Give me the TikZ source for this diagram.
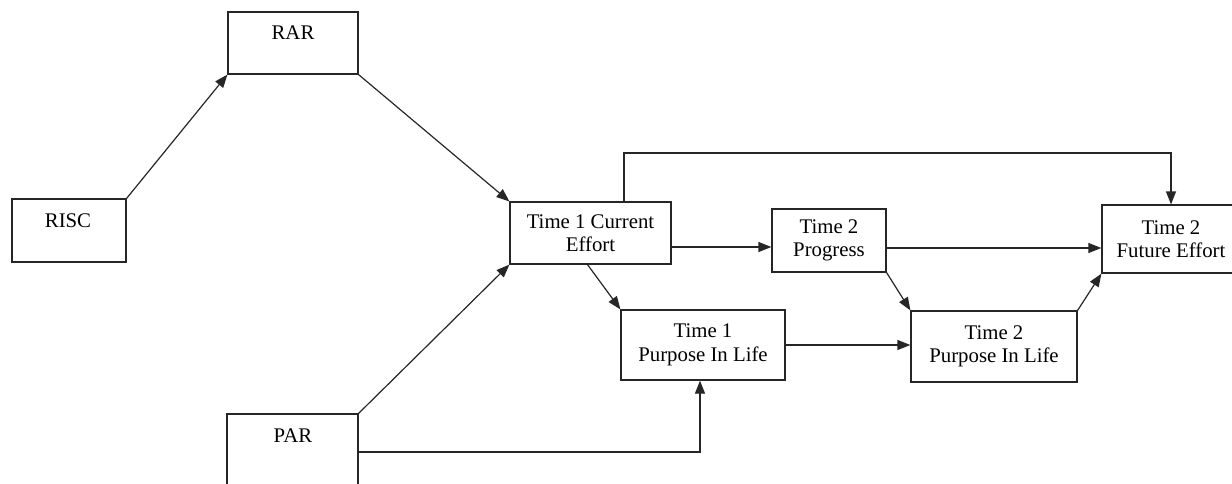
\documentclass[tikz,border=0pt]{standalone}
\usepackage{fontspec}
\setmainfont{Liberation Serif}
\usetikzlibrary{arrows.meta,calc}
\begin{document}
\begin{tikzpicture}[x=1pt,y=-1pt,
  box/.style={draw=black!85, line width=1.2pt, inner sep=0pt, align=center,
    font=\fontsize{20.8}{23.5}\selectfont},
  txt/.style={anchor=base, inner sep=0pt, font=\fontsize{20.8}{23.5}\selectfont},
  arr/.style={draw=black!85, line width=1.2pt, -{Triangle[length=13pt,width=10pt]}},
  ln/.style={draw=black!85, line width=1.2pt}]
\useasboundingbox (0,0) rectangle (1232,483);
% boxes
\node[box, minimum width=130, minimum height=62] (rar) at (293,43) {};
\node[txt] (rart) at (293,39) {RAR};
\node[box, minimum width=114, minimum height=63] (risc) at (69,230.5) {};
\node[txt] (risct) at (68,227) {RISC};
\node[box, minimum width=131, minimum height=82] (par) at (292.5,455) {};
\node[txt] (part) at (293,442) {PAR};
\node[box, minimum width=161, minimum height=62] (ce) at (590.5,233) {Time 1 Current\\Effort};
\node[box, minimum width=114, minimum height=63] (prog) at (829,240.5) {Time 2\\Progress};
\node[box, minimum width=138, minimum height=68] (fe) at (1171,239) {Time 2\\Future Effort};
\node[box, minimum width=164, minimum height=70] (pil1) at (703,345) {Time 1\\Purpose In Life};
\node[box, minimum width=166, minimum height=71] (pil2) at (994,346.5) {Time 2\\Purpose In Life};
% helper coordinates
\coordinate (topc) at (624,153);
\coordinate (yA) at (0,247);
\coordinate (yB) at (0,248);
\coordinate (yP) at (0,452);
\coordinate (xP) at (700,0);
% connectors
\draw[arr] (risc.north east) -- (rar.south west);
\draw[arr] (rar.south east) -- (ce.north west);
\draw[arr] (par.north east) -- (ce.south west);
\draw[arr] (par.east |- yP) -- (xP |- yP) -- (xP |- pil1.south);
\draw[arr] (ce.north -| topc) -- (topc) -| (fe.north);
\draw[arr] (ce.east |- yA) -- (prog.west |- yA);
\draw[arr] (prog.east |- yB) -- (fe.west |- yB);
\draw[arr] ($(ce.south)+(-3,0)$) -- (pil1.north west);
\draw[arr] (prog.south east) -- (pil2.north west);
\draw[arr] (pil1.east) -- (pil1.east -| pil2.west);
\draw[arr] (pil2.north east) -- (fe.south west);
\end{tikzpicture}
\end{document}
